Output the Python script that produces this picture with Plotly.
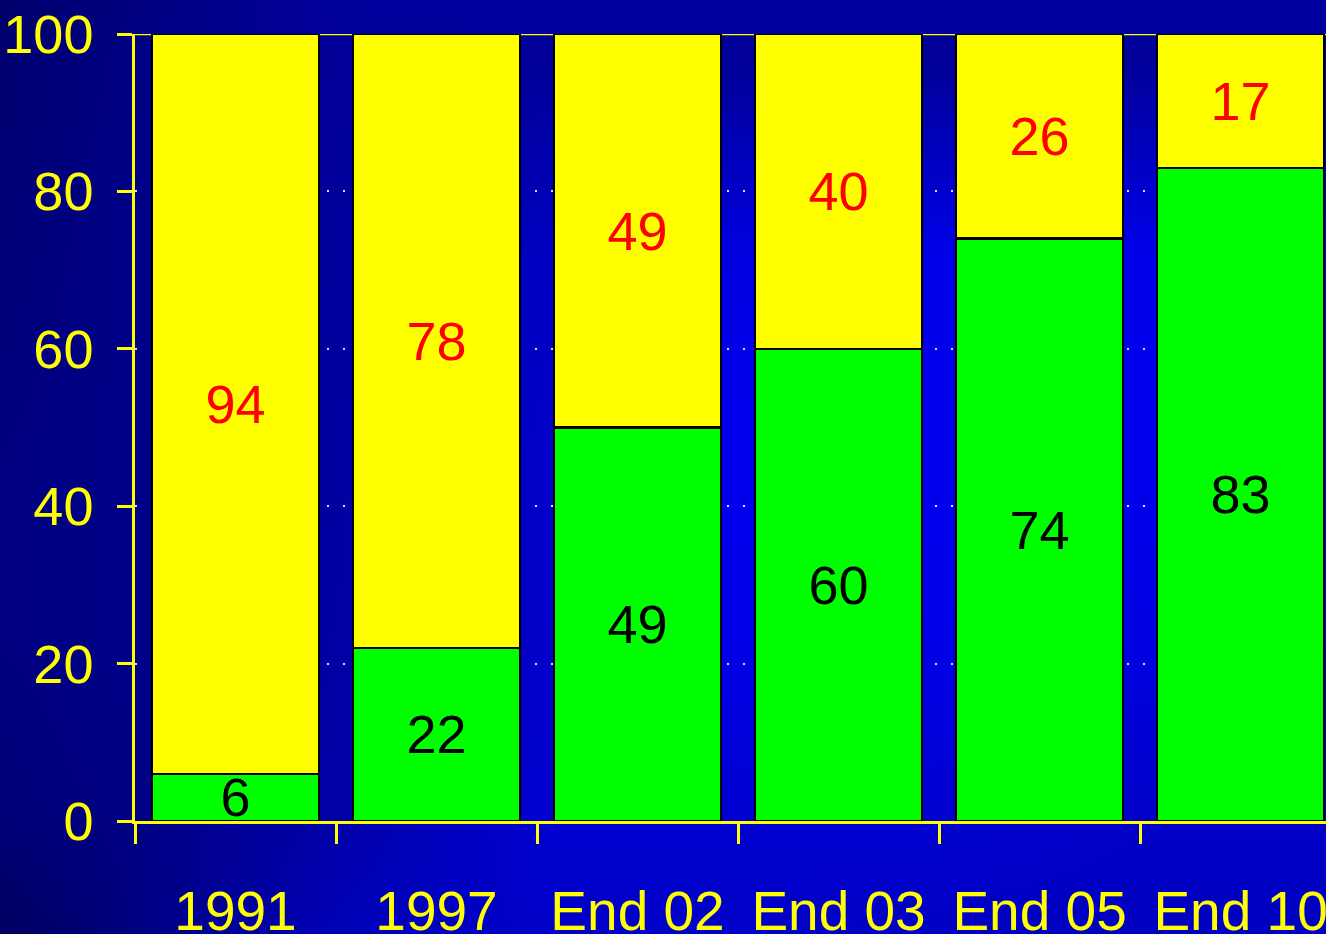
import base64
import struct
import zlib

import numpy as np
import plotly.graph_objects as go

# ---- data ----
categories = ["1991", "1997", "End 02", "End 03", "End 05", "End 10"]
green_values = [6, 22, 49, 60, 74, 83]
yellow_values = [94, 78, 49, 40, 26, 17]
y_ticks = [0, 20, 40, 60, 80, 100]

W, H = 1326, 934
ML, MR, MT, MB = 135, 0, 34, 113
PW, PH = W - ML - MR, H - MT - MB


# ---- background gradient (decorative) ----
def make_png(arr):
    h, w, _ = arr.shape
    raw = b"".join(b"\x00" + arr[i].tobytes() for i in range(h))

    def chunk(tag, data):
        c = struct.pack(">I", len(data)) + tag + data
        return c + struct.pack(">I", zlib.crc32(tag + data) & 0xFFFFFFFF)

    return (b"\x89PNG\r\n\x1a\n"
            + chunk(b"IHDR", struct.pack(">IIBBBBB", w, h, 8, 2, 0, 0, 0))
            + chunk(b"IDAT", zlib.compress(raw, 9))
            + chunk(b"IEND", b""))


gx = [0, 130, 335, 535, 735, 935, 1135, 1326]
gy = [0, 60, 250, 450, 650, 820, 934]
gb = [
    [0x6c, 0x80, 0x9c, 0xa0, 0xa0, 0xa0, 0xa0, 0xa0],
    [0x70, 0x84, 0x98, 0x98, 0x98, 0x98, 0x98, 0xa0],
    [0x78, 0x88, 0x9c, 0xc0, 0xe0, 0xe8, 0xe8, 0xf0],
    [0x80, 0x88, 0xa0, 0xc8, 0xf0, 0xf0, 0xf0, 0xf0],
    [0x80, 0x88, 0xa4, 0xc8, 0xe8, 0xe8, 0xe0, 0xe0],
    [0x78, 0x84, 0xa8, 0xd0, 0xd0, 0xd0, 0xc8, 0xc8],
    [0x60, 0x80, 0xb8, 0xc8, 0xc8, 0xc4, 0xc0, 0xc0],
]
iw, ih = W // 3, H // 3
xs = np.linspace(0, W, iw)
ys = np.linspace(0, H, ih)
rows = np.array([np.interp(xs, gx, r) for r in gb])
blue = np.array([np.interp(ys, gy, rows[:, j]) for j in range(iw)]).T
img = np.zeros((ih, iw, 3), dtype=np.uint8)
img[:, :, 2] = np.clip(blue, 0, 255).astype(np.uint8)
bg_src = "data:image/png;base64," + base64.b64encode(make_png(img)).decode()

FONT = "Liberation Sans, Arial, sans-serif"

fig = go.Figure()
fig.add_trace(go.Bar(
    x=categories, y=green_values, text=green_values, texttemplate="%{text}",
    textposition="inside", insidetextanchor="middle", textangle=0,
    textfont=dict(family=FONT, size=54, color="black"),
    marker=dict(color="#00FF00", line=dict(color="black", width=2.5)),
    hoverinfo="skip", showlegend=False,
))
fig.add_trace(go.Bar(
    x=categories, y=yellow_values, text=yellow_values, texttemplate="%{text}",
    textposition="inside", insidetextanchor="middle", textangle=0,
    textfont=dict(family=FONT, size=54, color="red"),
    marker=dict(color="#FFFF00", line=dict(color="black", width=2.5)),
    hoverinfo="skip", showlegend=False,
))

fig.update_layout(
    width=W, height=H,
    margin=dict(l=ML, r=MR, t=MT, b=MB, pad=0),
    barmode="stack", barnorm="percent", bargap=0.17,
    paper_bgcolor="#0000a0", plot_bgcolor="rgba(0,0,0,0)",
    uniformtext=dict(minsize=54, mode="show"),
    font=dict(family=FONT, color="yellow"),
    images=[dict(
        source=bg_src, xref="paper", yref="paper",
        x=-ML / PW, y=1 + MT / PH, sizex=W / PW, sizey=H / PH,
        xanchor="left", yanchor="top", sizing="stretch", layer="below",
    )],
    shapes=[dict(
        type="line", xref="paper", yref="y", x0=0, x1=1, y0=100, y1=100,
        line=dict(color="yellow", width=2.5), layer="below",
    )],
)
fig.update_xaxes(
    type="category", categoryorder="array", categoryarray=categories,
    range=[-0.5, 5.425], showline=True, linecolor="yellow", linewidth=2.5,
    ticks="outside", tickson="boundaries", ticklen=20, tickwidth=2.5,
    tickcolor="yellow", tickfont=dict(family=FONT, size=55, color="yellow"),
    ticklabelstandoff=40, showgrid=False, zeroline=False, automargin=False,
)
fig.update_yaxes(
    range=[0, 100], tickvals=y_ticks, showline=True, linecolor="yellow",
    linewidth=2.5, ticks="outside", ticklen=15, tickwidth=2.5, tickcolor="yellow",
    tickfont=dict(family=FONT, size=54, color="yellow"), ticklabelstandoff=13,
    showgrid=True, gridcolor="#d8d8ff", gridwidth=1.5, griddash="2px,14px",
    zeroline=False, automargin=False,
)

fig.write_html(
    "out.html",
    config={"displayModeBar": False},
    post_script="document.body.style.margin='0';document.body.style.padding='0';",
)
